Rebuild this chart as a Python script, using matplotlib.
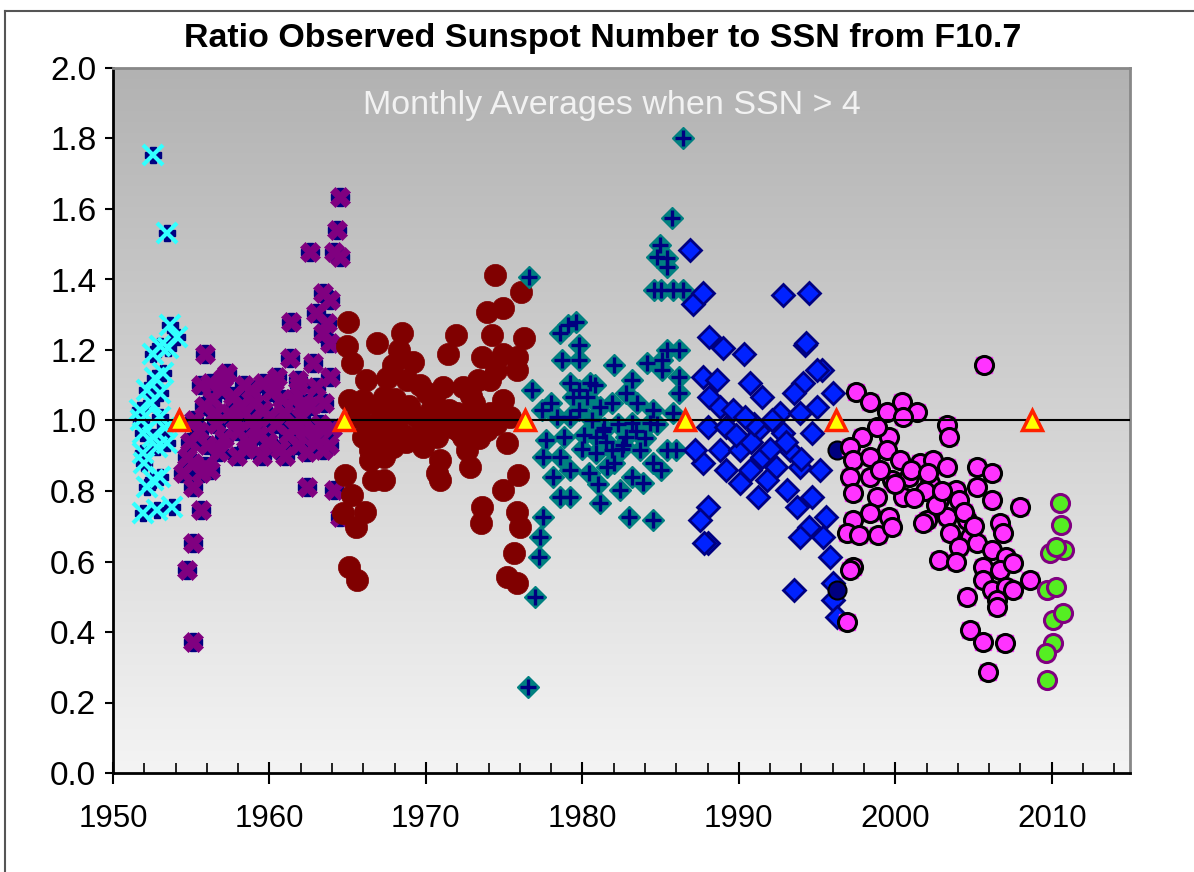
import numpy as np
import matplotlib
matplotlib.use("Agg")
import matplotlib.pyplot as plt
from matplotlib.lines import Line2D

plt.rcParams['font.family'] = ['Liberation Sans', 'DejaVu Sans']

# ---- data (year, ratio) ----
cyan_x = [1952.56, 1953.45, 1953.64, 1954.1, 1953.0, 1952.56, 1953.5, 1953.2, 1952.2, 1953.0,
          1951.7, 1953.0, 1951.9, 1952.56, 1953.45, 1951.9, 1952.8, 1952.56, 1952.2, 1953.0,
          1951.9, 1952.8, 1953.8, 1952.4, 1951.8, 1953.3, 1952.0, 1952.7]
cyan_y = [1.753, 1.532, 1.271, 1.237, 1.21, 1.19, 1.205, 1.135, 1.087, 1.078,
          1.03, 1.01, 0.965, 0.953, 0.936, 0.908, 0.925, 0.831, 0.811, 0.84,
          0.737, 0.746, 0.755, 1.05, 1.00, 0.98, 0.88, 1.12]

purple_x = [1964.5, 1964.3, 1962.6, 1964.1, 1964.5, 1963.4, 1963.9, 1963.0, 1961.4, 1963.7,
            1963.4, 1963.9, 1955.9, 1961.3, 1962.8, 1957.3, 1960.5, 1963.9, 1956.2, 1958.8,
            1959.6, 1961.8, 1963.0, 1954.5, 1955.6, 1956.2, 1955.1, 1955.6, 1955.1, 1954.7,
            1955.1, 1962.4, 1964.1, 1964.5, 1963.4, 1954.7,
            1955.2, 1955.5, 1955.8, 1956.0, 1956.3, 1956.6, 1956.9, 1957.1, 1957.4, 1957.7,
            1958.0, 1958.2, 1958.5, 1958.8, 1959.0, 1959.3, 1959.6, 1959.9, 1960.1, 1960.4,
            1960.7, 1960.9, 1961.2, 1961.5, 1961.8, 1962.0, 1962.3, 1962.6, 1962.9, 1963.2,
            1955.6, 1956.8, 1957.9, 1959.5, 1961.0, 1962.4, 1957.0, 1958.4, 1960.3, 1961.9,
            1963.5, 1964.0, 1963.8, 1954.9, 1955.1, 1955.9, 1957.8, 1959.1, 1960.0, 1961.6,
            1962.2, 1958.6, 1956.5, 1960.8]
purple_y = [1.634, 1.54, 1.478, 1.478, 1.464, 1.362, 1.342, 1.305, 1.28, 1.277,
            1.248, 1.22, 1.19, 1.177, 1.163, 1.135, 1.123, 1.123, 1.106, 1.087,
            1.106, 1.115, 1.095, 0.85, 0.85, 0.86, 0.811, 0.746, 0.652, 0.576,
            0.372, 0.811, 0.803, 0.726, 0.916, 0.896,
            1.00, 0.97, 1.04, 0.93, 1.06, 0.99, 1.09, 0.95, 1.02, 1.07,
            0.97, 1.04, 0.92, 1.00, 1.05, 0.96, 1.03, 0.94, 1.08, 0.99,
            0.92, 1.02, 0.96, 1.06, 0.93, 1.01, 0.97, 1.04, 0.95, 0.99,
            1.10, 0.91, 0.90, 0.90, 0.90, 0.91, 1.12, 1.10, 1.11, 1.10,
            1.05, 0.98, 0.93, 0.94, 0.88, 0.87, 1.00, 0.98, 1.01, 0.98,
            1.05, 0.94, 1.02, 1.06]

red_x = [1974.4, 1976.1, 1973.9, 1974.9, 1965.0, 1964.95, 1966.9, 1968.5, 1971.9, 1974.2,
         1976.3, 1965.3, 1971.4, 1973.6, 1974.9, 1968.3, 1969.2, 1967.9, 1966.2, 1968.8,
         1975.8, 1975.8, 1974.5, 1974.1, 1973.3, 1971.1, 1972.4, 1967.3, 1970.1, 1965.1,
         1966.0, 1974.9, 1965.6, 1966.9, 1968.1, 1969.4, 1970.3, 1971.5, 1972.8, 1974.1,
         1975.4, 1966.0, 1967.3, 1969.4, 1970.7, 1972.4, 1973.9, 1975.2, 1966.4, 1967.9,
         1969.8, 1972.6, 1966.4, 1967.3, 1970.9, 1972.8, 1966.6, 1967.3, 1970.7, 1970.9,
         1964.8, 1975.9, 1974.9, 1965.3, 1964.7, 1966.1, 1965.5, 1973.6, 1973.5, 1975.8,
         1976.0, 1965.1, 1965.6, 1975.6, 1975.2, 1975.8, 1968.9, 1971.8, 1973.1, 1969.9,
         1967.7, 1970.5, 1972.1, 1968.6, 1971.2,
         1965.8, 1967.0, 1968.0, 1969.0, 1970.0, 1971.0, 1972.0, 1973.0, 1974.5, 1966.5,
         1968.7, 1970.4, 1973.4, 1969.6, 1967.5, 1972.9]
red_y = [1.413, 1.365, 1.308, 1.319, 1.28, 1.21, 1.22, 1.248, 1.243, 1.243,
         1.234, 1.163, 1.19, 1.18, 1.19, 1.2, 1.166, 1.157, 1.115, 1.115,
         1.18, 1.143, 1.143, 1.115, 1.115, 1.095, 1.095, 1.067, 1.078, 1.058,
         1.058, 1.058, 1.01, 0.993, 0.993, 1.01, 1.03, 1.03, 1.01, 1.021,
         1.01, 0.953, 0.953, 0.953, 0.953, 0.953, 0.973, 0.936, 0.916, 0.925,
         0.925, 0.916, 0.888, 0.896, 0.888, 0.868, 0.831, 0.831, 0.851, 0.831,
         0.845, 0.845, 0.803, 0.789, 0.737, 0.74, 0.698, 0.755, 0.709, 0.74,
         0.698, 0.584, 0.548, 0.624, 0.556, 0.539, 1.04, 0.98, 1.05, 0.98,
         1.03, 1.06, 0.97, 0.96, 1.01,
         1.03, 1.04, 1.06, 1.02, 1.00, 0.99, 1.02, 1.00, 0.99, 0.97,
         0.94, 0.97, 0.95, 1.10, 1.12, 1.07]

teal_x = [1976.6, 1979.1, 1979.6, 1978.6, 1979.8, 1978.7, 1979.8, 1976.8, 1979.2, 1979.8,
          1980.5, 1979.4, 1980.3, 1977.4, 1978.4, 1979.2, 1979.8, 1981.1, 1981.9, 1982.8,
          1983.2, 1984.1, 1985.1, 1986.2, 1985.4, 1985.1, 1986.2, 1986.2, 1983.5, 1984.5,
          1983.2, 1984.3, 1977.7, 1978.8, 1977.5, 1978.6, 1978.1, 1979.2, 1978.6, 1979.2,
          1977.5, 1977.3, 1977.2, 1977.0, 1976.5, 1980.9, 1980.9, 1981.9, 1981.6, 1981.1,
          1982.4, 1983.0, 1984.5, 1982.8, 1983.7, 1984.5, 1983.9, 1983.2, 1985.4, 1986.0,
          1985.0, 1985.7, 1984.95, 1985.4, 1984.6, 1986.4, 1986.4, 1984.8, 1985.4, 1985.0,
          1985.8, 1982.0, 1980.6, 1981.4, 1982.3, 1980.1, 1981.5, 1982.6,
          1980.0, 1981.3, 1982.0, 1982.5, 1983.4, 1984.0, 1980.4, 1981.0, 1978.0, 1980.8,
          1984.8, 1985.8]
teal_y = [1.407, 1.271, 1.28, 1.248, 1.214, 1.172, 1.172, 1.087, 1.106, 1.087,
          1.106, 1.067, 1.067, 1.03, 1.01, 1.01, 1.03, 1.038, 1.05, 1.078,
          1.115, 1.163, 1.172, 1.2, 1.2, 1.143, 1.123, 1.078, 1.05, 1.03,
          0.993, 0.993, 0.945, 0.953, 0.896, 0.896, 0.84, 0.86, 0.783, 0.783,
          0.726, 0.67, 0.613, 0.5, 0.244, 0.953, 0.908, 0.916, 0.868, 0.766,
          0.803, 0.726, 0.718, 0.953, 0.916, 0.879, 0.823, 0.84, 0.916, 0.916,
          0.86, 1.574, 1.498, 1.46, 1.37, 1.37, 1.80, 1.464, 1.436, 1.37,
          1.37, 1.157, 1.00, 0.98, 0.99, 0.96, 0.94, 0.93,
          0.92, 0.97, 0.88, 0.92, 0.97, 0.95, 0.85, 0.82, 1.05, 1.10,
          0.99, 1.02]

blue_x = [1986.9, 1987.1, 1987.7, 1992.8, 1994.2, 1995.3, 1994.5, 1988.1, 1989.0, 1990.3,
          1994.3, 1995.0, 1987.7, 1988.6, 1990.7, 1994.1, 1996.0, 1988.1, 1991.5, 1993.5,
          1995.0, 1988.8, 1989.6, 1992.6, 1993.9, 1988.0, 1989.2, 1991.2, 1992.8, 1994.7,
          1988.8, 1990.1, 1991.5, 1993.3, 1987.7, 1989.2, 1990.7, 1992.4, 1993.9, 1990.1,
          1991.8, 1993.1, 1991.2, 1993.7, 1994.7, 1995.6, 1994.5, 1993.9, 1995.4, 1988.0,
          1988.0, 1995.8, 1993.5, 1996.0, 1996.0, 1996.3, 1987.2, 1987.5, 1987.8, 1990.8,
          1991.0, 1992.0, 1992.1, 1993.0, 1994.0, 1995.2, 1989.8, 1990.4]
blue_y = [1.484, 1.33, 1.362, 1.356, 1.214, 1.143, 1.362, 1.237, 1.206, 1.19,
          1.22, 1.143, 1.123, 1.115, 1.106, 1.106, 1.078, 1.067, 1.067, 1.078,
          1.038, 1.038, 1.03, 1.021, 1.021, 0.982, 0.982, 0.973, 0.965, 0.965,
          0.916, 0.916, 0.896, 0.916, 0.879, 0.86, 0.86, 0.868, 0.868, 0.823,
          0.831, 0.803, 0.783, 0.755, 0.783, 0.726, 0.698, 0.67, 0.67, 0.755,
          0.652, 0.613, 0.519, 0.539, 0.491, 0.443, 0.916, 0.718, 0.652, 0.94,
          0.99, 0.92, 1.00, 0.94, 0.89, 0.86, 0.96, 1.01]

navy_x = [1996.3, 1996.3]
navy_y = [0.916, 0.519]

mag_x = [2005.7, 1997.5, 1998.4, 2000.4, 2001.4, 1999.5, 2000.5, 2003.3, 2003.4, 1999.6,
         1997.9, 1997.1, 1998.8, 1997.3, 1998.4, 1999.5, 2000.3, 2001.6, 2002.4, 2003.3,
         2005.2, 2006.2, 1997.1, 1998.4, 1999.8, 2000.9, 2002.2, 2003.9, 2005.2, 1997.3,
         1998.8, 2000.5, 2002.8, 2004.1, 2006.2, 2008.0, 1998.4, 1999.6, 2002.0, 2003.3,
         2004.6, 1997.3, 1996.9, 1997.7, 1998.9, 1999.8, 2001.8, 2003.5, 2004.8, 2006.7,
         2006.9, 2005.2, 2004.1, 2002.8, 2003.9, 2006.2, 2007.1, 2005.6, 2006.7, 2007.5,
         2008.6, 2005.6, 2006.2, 2007.1, 2007.5, 2006.5, 2006.5, 2004.6, 1997.3, 1997.1,
         1996.9, 2004.8, 2005.6, 2007.0, 2005.9, 2001.0, 2001.9, 2002.6, 2000.0, 1999.0,
         2003.0, 2004.4, 2005.0, 2001.2, 2002.1]
mag_y = [1.157, 1.081, 1.053, 1.053, 1.024, 1.024, 1.01, 0.987, 0.953, 0.953,
         0.953, 0.925, 0.982, 0.888, 0.896, 0.916, 0.888, 0.879, 0.888, 0.868,
         0.868, 0.851, 0.84, 0.84, 0.831, 0.84, 0.823, 0.803, 0.811, 0.794,
         0.783, 0.783, 0.774, 0.774, 0.774, 0.755, 0.737, 0.726, 0.718, 0.726,
         0.718, 0.718, 0.681, 0.675, 0.675, 0.698, 0.709, 0.681, 0.67, 0.709,
         0.681, 0.652, 0.641, 0.604, 0.599, 0.633, 0.613, 0.584, 0.576, 0.596,
         0.548, 0.548, 0.519, 0.528, 0.519, 0.491, 0.471, 0.5, 0.584, 0.576,
         0.428, 0.406, 0.372, 0.369, 0.287, 0.86, 0.80, 0.76, 0.82, 0.86,
         0.80, 0.74, 0.70, 0.78, 0.85]

green_x = [2010.5, 2010.6, 2009.9, 2010.8, 2010.3, 2009.7, 2010.3, 2010.1, 2010.7, 2010.1,
           2009.6, 2009.7]
green_y = [0.766, 0.704, 0.624, 0.633, 0.641, 0.519, 0.528, 0.434, 0.454, 0.369,
           0.34, 0.264]

minima_x = [1954.25, 1964.75, 1976.35, 1986.55, 1996.2, 2008.75]
minima_y = [1.0, 1.0, 1.0, 1.0, 1.0, 1.0]

# ---- figure ----
fig = plt.figure(figsize=(11.94, 8.72), dpi=100)
ax = fig.add_axes([113 / 1194, 1 - 773 / 872, (1130 - 113) / 1194, (773 - 68) / 872])

ax.set_xlim(1950, 2015)
ax.set_ylim(0, 2.0)

# grey gradient background
grad = np.linspace(0, 1, 256).reshape(-1, 1)
cmap = matplotlib.colors.LinearSegmentedColormap.from_list('bg', ['#f4f4f4', '#b2b2b2'])
ax.imshow(grad, cmap=cmap, aspect='auto', extent=[1950, 2015, 0, 2.0], origin='lower', zorder=0)

ax.plot(cyan_x, cyan_y, ls='none', marker='P', ms=12, mfc='#000080', mec='#000080', zorder=2)
ax.plot(cyan_x, cyan_y, ls='none', marker='x', ms=15, mec='#33ffff', mew=3, zorder=2)

ax.plot(purple_x, purple_y, ls='none', marker='P', ms=13, mfc='#000080', mec='#000080', zorder=2)
ax.plot(purple_x, purple_y, ls='none', marker='X', ms=15, mfc='#800080', mec='#800080', mew=0.5, zorder=2)

ax.plot(red_x, red_y, ls='none', marker='o', ms=16, mfc='#800000', mec='#800000', mew=0.5, zorder=2)

ax.plot(teal_x, teal_y, ls='none', marker='D', ms=11.5, mfc='#008080', mec='#008080', zorder=2)
ax.plot(teal_x, teal_y, ls='none', marker='+', ms=11.5, mec='#000080', mew=2.4, zorder=2)

ax.plot(blue_x, blue_y, ls='none', marker='D', ms=11, mfc='#0022ff', mec='#000080', mew=2, zorder=2)
ax.plot(navy_x, navy_y, ls='none', marker='o', ms=13, mfc='#000080', mec='black', mew=1.5, zorder=2)

ax.plot(mag_x, mag_y, ls='none', marker='s', ms=11.5, mfc='#ff33ff', mec='#ff33ff', zorder=2)
ax.plot(mag_x, mag_y, ls='none', marker='o', ms=13, mfc='#ff33ff', mec='black', mew=2.2, zorder=2)

ax.plot(green_x, green_y, ls='none', marker='o', ms=13, mfc='#55ee22', mec='#800080', mew=2.2, zorder=2)

ax.axhline(1.0, color='black', lw=1.5, zorder=3)
ax.plot(minima_x, minima_y, ls='none', marker='^', ms=15, mfc='#ffff00', mec='#ff2200', mew=2.5, zorder=4)

ax.text(1981.9, 1.895, 'Monthly Averages when SSN > 4', color='#f2f2f2', fontsize=24.5,
        ha='center', va='center')

# axes styling
ax.set_xticks(range(1950, 2011, 10))
ax.set_xticks(range(1952, 2015, 2), minor=True)
ax.set_yticks(np.arange(0, 2.01, 0.2))
ax.set_yticklabels(['%.1f' % v for v in np.arange(0, 2.01, 0.2)])
ax.tick_params(axis='x', which='major', direction='inout', length=16, width=1.5, labelsize=22.5, pad=14)
ax.tick_params(axis='x', which='minor', direction='in', length=7, width=1.2)
ax.tick_params(axis='y', which='major', direction='out', length=6, width=1.5, labelsize=24, pad=6)
ax.tick_params(top=False, right=False)
for s in ['left', 'bottom']:
    ax.spines[s].set_color('black')
    ax.spines[s].set_linewidth(2)
for s in ['top', 'right']:
    ax.spines[s].set_color('#888888')
    ax.spines[s].set_linewidth(2)

fig.text(0.505, 1 - 38 / 872, 'Ratio Observed Sunspot Number to SSN from F10.7', ha='center', va='center',
         fontsize=24.5, fontweight='bold')

# border lines of the original chart frame (top and left)
fig.add_artist(Line2D([5 / 1194, 1], [1 - 11 / 872, 1 - 11 / 872], color='#555555', lw=1.5))
fig.add_artist(Line2D([5 / 1194, 5 / 1194], [0, 1 - 11 / 872], color='#555555', lw=1.5))

fig.savefig('out.png', dpi=100)
